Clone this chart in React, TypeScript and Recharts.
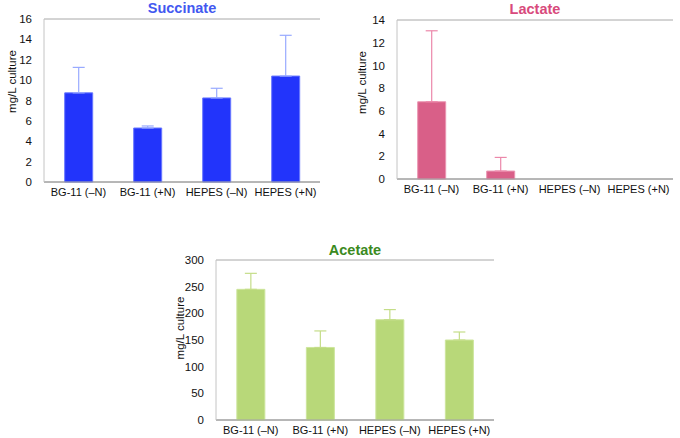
import { Bar, BarChart, CartesianGrid, ErrorBar, XAxis, YAxis } from "recharts";

const categories = ["BG-11 (–N)", "BG-11 (+N)", "HEPES (–N)", "HEPES (+N)"];

const succinate = [8.75, 5.3, 8.25, 10.4];
const succinateErr = [2.5, 0.2, 0.95, 4.0];

const lactate = [6.8, 0.7, 0, 0];
const lactateErr = [6.25, 1.2, 0, 0];

const acetate = [245, 136, 188, 150];
const acetateErr = [30, 31, 19, 15];

const succinateTicks = [0, 2, 4, 6, 8, 10, 12, 14, 16];
const lactateTicks = [0, 2, 4, 6, 8, 10, 12, 14];
const acetateTicks = [0, 50, 100, 150, 200, 250, 300];

const font = "'Liberation Sans', Arial, Helvetica, sans-serif";

type PanelProps = {
  title: string;
  titleColor: string;
  values: number[];
  errors: number[];
  ticks: number[];
  fill: string;
  stroke: string;
  errColor: string;
  left: number;
  top: number;
  width: number;
  height: number;
  marginTop: number;
  marginRight: number;
  yWidth: number;
  labelDx: number;
  labelDy: number;
  titleTop: number;
};

const Panel = (p: PanelProps) => {
  const data = categories.map((name, i) => ({
    name,
    value: p.values[i],
    err: [0, p.errors[i]],
  }));
  const plotLeft = p.yWidth;
  const plotWidth = p.width - p.yWidth - p.marginRight;
  return (
    <div
      style={{
        position: "absolute",
        left: p.left,
        top: p.top,
        width: p.width,
        height: p.height,
      }}
    >
      <div
        style={{
          position: "absolute",
          left: plotLeft,
          width: plotWidth,
          top: p.titleTop,
          textAlign: "center",
          fontFamily: font,
          fontWeight: "bold",
          fontSize: 14.5,
          lineHeight: "16px",
          color: p.titleColor,
        }}
      >
        {p.title}
      </div>
      <BarChart
        width={p.width}
        height={p.height}
        data={data}
        margin={{ top: p.marginTop, right: p.marginRight, left: 0, bottom: 0 }}
        barCategoryGap="30%"
        style={{ fontFamily: font }}
      >
        <CartesianGrid vertical={false} stroke="#a8a8a8" />
        <XAxis
          dataKey="name"
          height={18}
          tickLine={false}
          tickMargin={0}
          axisLine={{ stroke: "#9a9a9a" }}
          tick={{ fontSize: 11, fill: "#111" }}
          interval={0}
        />
        <YAxis
          yAxisId="l"
          width={p.yWidth}
          domain={[p.ticks[0], p.ticks[p.ticks.length - 1]]}
          ticks={p.ticks}
          tickLine={false}
          tickMargin={6}
          axisLine={{ stroke: "#c4c4c4" }}
          tick={{ fontSize: 11.5, fill: "#111" }}
          label={{
            content: ({ viewBox }: any) => {
              const lx = viewBox.x + viewBox.width + p.labelDx;
              const ly = viewBox.y + viewBox.height / 2 + p.labelDy;
              return (
                <text
                  x={lx}
                  y={ly}
                  transform={`rotate(-90 ${lx} ${ly})`}
                  textAnchor="middle"
                  dominantBaseline="central"
                  fontSize={11.5}
                  fill="#111"
                  fontFamily={font}
                >
                  mg/L culture
                </text>
              );
            },
          }}
        />
        <YAxis
          yAxisId="r"
          orientation="right"
          width={0}
          tick={false}
          tickLine={false}
          axisLine={{ stroke: "#a0a0a0" }}
        />
        <Bar
          yAxisId="l"
          dataKey="value"
          fill={p.fill}
          stroke={p.stroke}
          strokeWidth={1}
          isAnimationActive={false}
        >
          <ErrorBar
            dataKey="err"
            direction="y"
            width={6}
            stroke={p.errColor}
            strokeWidth={1.2}
          />
        </Bar>
      </BarChart>
    </div>
  );
};

export default function App() {
  return (
    <div
      style={{
        position: "absolute",
        left: 0,
        top: 0,
        width: 680,
        height: 438,
        background: "#fff",
      }}
    >
      <Panel
        title="Succinate"
        titleColor="#4258f0"
        values={succinate}
        errors={succinateErr}
        ticks={succinateTicks}
        fill="#2234fb"
        stroke="#6878ff"
        errColor="#98aaff"
        left={0}
        top={0}
        width={330}
        height={200}
        marginTop={19}
        marginRight={10}
        yWidth={44}
        labelDx={-32}
        labelDy={-19}
        titleTop={0}
      />
      <Panel
        title="Lactate"
        titleColor="#d84a7c"
        values={lactate}
        errors={lactateErr}
        ticks={lactateTicks}
        fill="#d95f88"
        stroke="#eb95b2"
        errColor="#ec88aa"
        left={340}
        top={0}
        width={340}
        height={197}
        marginTop={20}
        marginRight={7}
        yWidth={57}
        labelDx={-35}
        labelDy={-17}
        titleTop={1}
      />
      <Panel
        title="Acetate"
        titleColor="#3b8a1e"
        values={acetate}
        errors={acetateErr}
        ticks={acetateTicks}
        fill="#b8d879"
        stroke="#cde59c"
        errColor="#c4dd88"
        left={160}
        top={220}
        width={340}
        height={218}
        marginTop={40}
        marginRight={6}
        yWidth={56}
        labelDx={-36}
        labelDy={-12}
        titleTop={22}
      />
    </div>
  );
}
